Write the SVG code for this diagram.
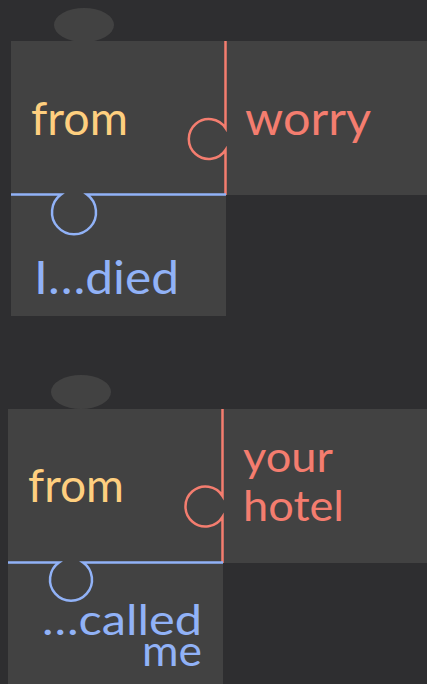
<svg xmlns="http://www.w3.org/2000/svg" width="427" height="684" viewBox="0 0 427 684">
<style>
.bg{fill:#2e2e30}
.pc{fill:#424242}
.t{font-family:Lato,"Noto Sans",sans-serif;font-size:46px}
.s{font-size:42px}
.y{fill:#fecf7f}
.r{fill:#f47d6f}
.b{fill:#91b2f7}
.lr{fill:none;stroke:#f47d6f;stroke-width:2.5}
.lb{fill:none;stroke:#91b2f7;stroke-width:2.5}
</style>
<rect class="bg" x="0" y="0" width="427" height="684"/>
<g id="puzzle1">
<g id="p1-from">
<ellipse class="pc" cx="84" cy="25" rx="30" ry="17"/>
<rect class="pc" x="11" y="41" width="215" height="154"/>
<text class="t y" x="31" y="135" textLength="97" lengthAdjust="spacingAndGlyphs">from</text>
</g>
<g id="p1-worry">
<rect class="pc" x="226" y="41" width="201" height="154"/>
<text class="t r" x="245" y="135" textLength="126" lengthAdjust="spacingAndGlyphs">worry</text>
</g>
<g id="p1-died">
<rect class="pc" x="11" y="195" width="215" height="121"/>
<text class="t b" x="34" y="294" textLength="145" lengthAdjust="spacingAndGlyphs">I…died</text>
</g>
</g>
<g id="puzzle2">
<g id="p2-from">
<ellipse class="pc" cx="81" cy="392" rx="30" ry="17"/>
<rect class="pc" x="8" y="409" width="215" height="154"/>
<text class="t y" x="28" y="502" textLength="96" lengthAdjust="spacingAndGlyphs">from</text>
</g>
<g id="p2-hotel">
<rect class="pc" x="223" y="409" width="204" height="154"/>
<text class="t s r" x="243" y="472" textLength="90" lengthAdjust="spacingAndGlyphs">your</text>
<text class="t s r" x="243" y="521" textLength="101" lengthAdjust="spacingAndGlyphs">hotel</text>
</g>
<g id="p2-called">
<rect class="pc" x="8" y="563" width="215" height="121"/>
<text class="t s b" x="42" y="635" textLength="160" lengthAdjust="spacingAndGlyphs">…called</text>
<text class="t s b" x="142" y="666" textLength="60" lengthAdjust="spacingAndGlyphs">me</text>
</g>
</g>
<g id="connectors">
<path class="lr" d="M225.5 41 V128 A20 20 0 1 0 225.5 150 V195"/>
<path class="lb" d="M11 194.5 H61 A22 22 0 1 0 87 194.5 H226"/>
<path class="lr" d="M222.5 409 V496 A20 20 0 1 0 222.5 517 V563"/>
<path class="lb" d="M8 562.5 H59 A21 21 0 1 0 83 562.5 H223"/>
</g>
</svg>
